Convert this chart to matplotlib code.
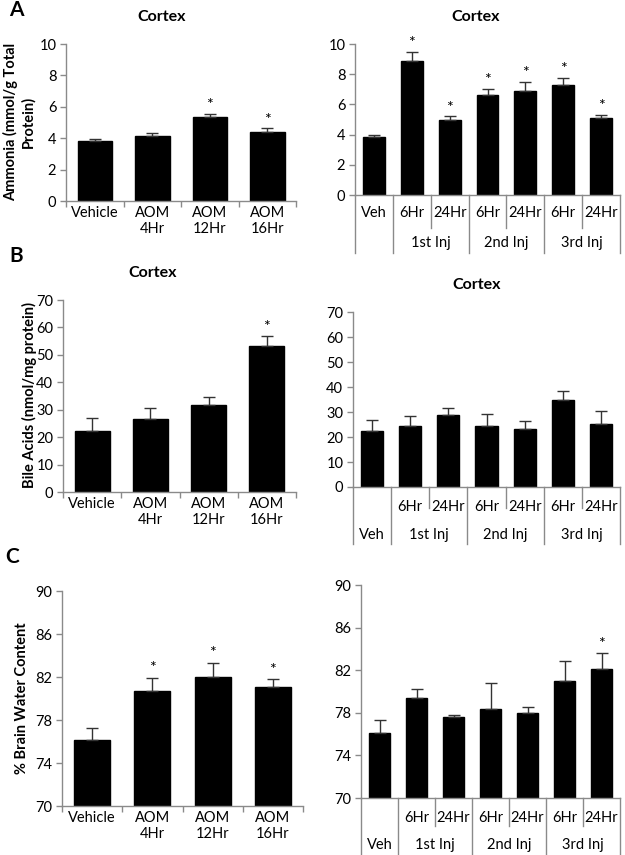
import matplotlib
matplotlib.use("Agg")
import matplotlib.pyplot as plt
from matplotlib.transforms import blended_transform_factory
import numpy as np

plt.rcParams['font.family'] = ['Lato', 'DejaVu Sans']

W, H = 625, 855

# ---------------- data ----------------
left_labels = ["Vehicle", "AOM\n4Hr", "AOM\n12Hr", "AOM\n16Hr"]
right_row1 = ["Veh", "6Hr", "24Hr", "6Hr", "24Hr", "6Hr", "24Hr"]
right_row1_noveh = ["", "6Hr", "24Hr", "6Hr", "24Hr", "6Hr", "24Hr"]
right_groups = ["1st Inj", "2nd Inj", "3rd Inj"]

ammonia_left = [3.85, 4.15, 5.35, 4.42]
ammonia_left_err = [0.12, 0.2, 0.2, 0.2]
ammonia_left_sig = [False, False, True, True]

ammonia_right = [3.85, 8.85, 4.95, 6.6, 6.9, 7.3, 5.1]
ammonia_right_err = [0.12, 0.65, 0.25, 0.4, 0.6, 0.45, 0.2]
ammonia_right_sig = [False, True, True, True, True, True, True]

bile_left = [22.3, 26.5, 31.8, 53.3]
bile_left_err = [4.5, 4.0, 2.8, 3.5]
bile_left_sig = [False, False, False, True]

bile_right = [22.3, 24.2, 28.6, 24.4, 23.3, 34.7, 25.0]
bile_right_err = [4.5, 4.0, 2.8, 4.8, 3.0, 3.7, 5.3]
bile_right_sig = [False] * 7

water_left = [76.1, 80.7, 82.0, 81.1]
water_left_err = [1.2, 1.2, 1.3, 0.7]
water_left_sig = [False, True, True, True]

water_right = [76.1, 79.4, 77.6, 78.4, 78.0, 81.0, 82.1]
water_right_err = [1.2, 0.8, 0.2, 2.4, 0.5, 1.9, 1.5]
water_right_sig = [False, False, False, False, False, False, True]

GRAY = "#8a8a8a"
FS = 10.5

fig = plt.figure(figsize=(W / 100, H / 100), dpi=100)


def add_ax(x0, x1, y0, y1):
    return fig.add_axes([x0 / W, 1 - y1 / H, (x1 - x0) / W, (y1 - y0) / H])


def fy(ypix):
    return 1 - ypix / H


def style(ax, ymin, ymax, step):
    ax.set_ylim(ymin, ymax)
    ax.set_yticks(np.arange(ymin, ymax + 0.001, step))
    for s in ["top", "right"]:
        ax.spines[s].set_visible(False)
    for s in ["left", "bottom"]:
        ax.spines[s].set_color(GRAY)
        ax.spines[s].set_linewidth(1.0)
    ax.tick_params(axis="y", colors=GRAY, labelcolor="black", labelsize=FS,
                   length=4, width=1.0, pad=3)
    ax.set_facecolor("none")


def bars(ax, vals, errs, sig, ymin, ymax, width):
    x = np.arange(len(vals))
    ax.bar(x, np.array(vals) - ymin, bottom=ymin, width=width, color="black",
           edgecolor="black", zorder=2)
    ax.errorbar(x, vals, yerr=[np.zeros(len(errs)), errs], fmt="none",
                ecolor="#333333", elinewidth=1.0, capsize=4, capthick=1.0,
                zorder=3)
    rng = ymax - ymin
    for i, (v, e, s) in enumerate(zip(vals, errs, sig)):
        if s:
            ax.text(i, v + e + rng * 0.012, "*", ha="center", va="bottom",
                    fontsize=FS + 1, clip_on=False)
    ax.set_xlim(-0.5, len(vals) - 0.5)


def left_panel(ax, vals, errs, sig, ymin, ymax, step, label_y):
    style(ax, ymin, ymax, step)
    bars(ax, vals, errs, sig, ymin, ymax, 0.6)
    ax.set_xticks(range(4))
    ax.set_xticklabels([])
    ax.set_xticks(np.arange(-0.5, 4.0, 1.0), minor=True)
    ax.tick_params(axis="x", which="major", length=0)
    ax.tick_params(axis="x", which="minor", length=4, width=1.0, colors=GRAY)
    tr = blended_transform_factory(ax.transData, fig.transFigure)
    for i, lab in enumerate(left_labels):
        ax.text(i, fy(label_y), lab, transform=tr, ha="center", va="top",
                fontsize=FS, linespacing=1.2)


def right_panel(ax, vals, errs, sig, ymin, ymax, step, row1, veh_row,
                y_row1, y_row2, y_short, y_long):
    style(ax, ymin, ymax, step)
    bars(ax, vals, errs, sig, ymin, ymax, 0.58)
    ax.set_xticks([])
    tr = blended_transform_factory(ax.transData, fig.transFigure)
    y_axis = ax.get_position().y0
    for i, lab in enumerate(row1):
        if lab:
            ax.text(i, fy(y_row1), lab, transform=tr, ha="center",
                    va="center", fontsize=FS)
    if veh_row == 2:
        ax.text(0, fy(y_row2), "Veh", transform=tr, ha="center",
                va="center", fontsize=FS)
    for g, lab in enumerate(right_groups):
        ax.text(1.5 + 2 * g, fy(y_row2), lab, transform=tr, ha="center",
                va="center", fontsize=FS)
    for b in np.arange(-0.5, len(vals), 1.0):
        k = int(b + 0.5)
        short = k in (2, 4, 6)
        yb = y_short if short else y_long
        ax.plot([b, b], [y_axis, fy(yb)], transform=tr, color=GRAY,
                lw=1.0, clip_on=False)


# ---------------- Panel A ----------------
axA1 = add_ax(66, 296, 44, 201)
left_panel(axA1, ammonia_left, ammonia_left_err, ammonia_left_sig,
           0, 10, 2, 206)
axA2 = add_ax(355, 620, 44, 195)
right_panel(axA2, ammonia_right, ammonia_right_err, ammonia_right_sig,
            0, 10, 2, right_row1, 1, 213, 243, 228, 253)

# ---------------- Panel B ----------------
axB1 = add_ax(63, 296, 300, 492)
left_panel(axB1, bile_left, bile_left_err, bile_left_sig, 0, 70, 10, 497)
axB2 = add_ax(353, 620, 312, 487)
right_panel(axB2, bile_right, bile_right_err, bile_right_sig,
            0, 70, 10, right_row1_noveh, 2, 507, 535, 508, 544)

# ---------------- Panel C ----------------
axC1 = add_ax(62, 303, 591, 806)
left_panel(axC1, water_left, water_left_err, water_left_sig,
           70, 90, 4, 811)
axC2 = add_ax(361, 620, 585, 798)
right_panel(axC2, water_right, water_right_err, water_right_sig,
            70, 90, 4, right_row1_noveh, 2, 818, 845, 826, 856)

# ---------------- titles / labels ----------------
tb = dict(fontsize=11.5, fontweight="bold", ha="center", va="center")
fig.text(162 / W, fy(17), "Cortex", **tb)
fig.text(476 / W, fy(17), "Cortex", **tb)
fig.text(153 / W, fy(273), "Cortex", **tb)
fig.text(477 / W, fy(285), "Cortex", **tb)

pl = dict(fontsize=15, fontweight="bold", ha="left", va="center")
fig.text(9 / W, fy(10), "A", **pl)
fig.text(9 / W, fy(256), "B", **pl)
fig.text(5 / W, fy(557), "C", **pl)

yl = dict(fontsize=10.5, fontweight="bold", rotation=90, ha="center",
          va="center", linespacing=1.25)
fig.text(19 / W, fy(122), "Ammonia (mmol/g Total\nProtein)", **yl)
fig.text(29 / W, fy(395), "Bile Acids (nmol/mg protein)", **yl)
fig.text(22 / W, fy(698), "% Brain Water Content", **yl)

fig.savefig("out.png", dpi=100)
